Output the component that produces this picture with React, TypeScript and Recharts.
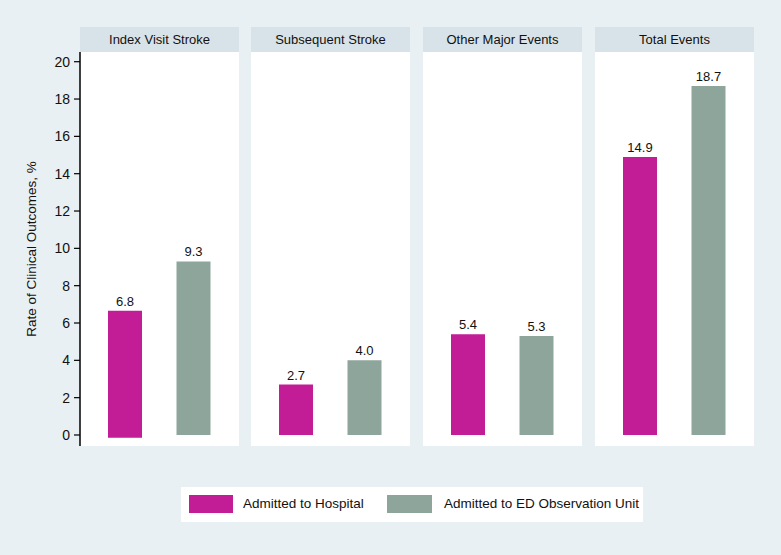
import React from 'react';
import { BarChart, Bar, XAxis, YAxis, Cell, LabelList } from 'recharts';

const panels = ['Index Visit Stroke', 'Subsequent Stroke', 'Other Major Events', 'Total Events'];
const seriesNames = ['Admitted to Hospital', 'Admitted to ED Observation Unit'];
const hospital = [6.8, 2.7, 5.4, 14.9];
const observation = [9.3, 4.0, 5.3, 18.7];
// first hospital bar sits slightly below the zero line in the original
const hospitalBase = [-0.15, 0, 0, 0];
const observationBase = [0, 0, 0, 0];
const yTicks = [0, 2, 4, 6, 8, 10, 12, 14, 16, 18, 20];

const BG = '#e9f0f3';
const STRIP = '#d8e3e9';
const COLORS = ['#c21d96', '#8ea59b'];
const FONT = '"Liberation Sans", Arial, sans-serif';

const PANEL_X = [80, 251, 423, 595];
const PANEL_W = 159;
const PLOT_TOP = 52;
const PLOT_H = 394;
const AXIS_W = 60;
const DOMAIN: [number, number] = [-0.59, 20.52];

const panelData = (i: number) => [
  { series: seriesNames[0], range: [hospitalBase[i], hospitalBase[i] + hospital[i]], label: hospital[i].toFixed(1) },
  { series: seriesNames[1], range: [observationBase[i], observationBase[i] + observation[i]], label: observation[i].toFixed(1) },
];

const Panel: React.FC<{ i: number }> = ({ i }) => {
  const withAxis = i === 0;
  const w = withAxis ? PANEL_W + AXIS_W : PANEL_W;
  const left = withAxis ? PANEL_X[i] - AXIS_W : PANEL_X[i];
  return (
    <>
      <div
        style={{
          position: 'absolute', left: PANEL_X[i], top: 27, width: PANEL_W, height: 25,
          background: STRIP, fontSize: 13, lineHeight: '25px', textAlign: 'center', color: '#111',
        }}
      >
        {panels[i]}
      </div>
      <div style={{ position: 'absolute', left: PANEL_X[i], top: PLOT_TOP, width: PANEL_W, height: PLOT_H, background: '#fff' }} />
      <div style={{ position: 'absolute', left, top: PLOT_TOP }}>
        <BarChart width={w} height={PLOT_H} data={panelData(i)} margin={{ top: 0, right: 0, bottom: 0, left: 0 }}>
          <XAxis dataKey="series" hide padding={{ left: 11, right: 11 }} />
          <YAxis
            type="number"
            domain={DOMAIN}
            ticks={yTicks}
            allowDataOverflow
            hide={!withAxis}
            width={AXIS_W}
            tick={{ fill: '#111', fontSize: 14 }}
            tickSize={6}
            tickMargin={4}
            axisLine={{ stroke: '#000', strokeWidth: 1.5 }}
            tickLine={{ stroke: '#000', strokeWidth: 1.2 }}
          />
          <Bar dataKey="range" barSize={34} isAnimationActive={false}>
            {panelData(i).map((_, k) => (
              <Cell key={k} fill={COLORS[k]} />
            ))}
            <LabelList dataKey="label" position="top" offset={5} fill="#111" fontSize={13} />
          </Bar>
        </BarChart>
      </div>
    </>
  );
};

export default function App() {
  return (
    <div style={{ position: 'absolute', left: 0, top: 0, width: 781, height: 555, background: BG, fontFamily: FONT }}>
      {panels.map((_, i) => (
        <Panel key={i} i={i} />
      ))}
      <div
        style={{
          position: 'absolute', left: 31, top: 249, transform: 'translate(-50%, -50%) rotate(-90deg)',
          whiteSpace: 'nowrap', fontSize: 13.5, color: '#111',
        }}
      >
        Rate of Clinical Outcomes, %
      </div>
      <div
        style={{
          position: 'absolute', left: 181, top: 487, width: 462, height: 35, background: '#fff',
          fontSize: 13.5, color: '#111', whiteSpace: 'nowrap',
        }}
      >
        <span style={{ position: 'absolute', left: 8, top: 8, width: 44, height: 18, background: COLORS[0] }} />
        <span style={{ position: 'absolute', left: 62, top: 0, lineHeight: '34px' }}>{seriesNames[0]}</span>
        <span style={{ position: 'absolute', left: 206, top: 8, width: 45, height: 18, background: COLORS[1] }} />
        <span style={{ position: 'absolute', left: 263, top: 0, lineHeight: '34px' }}>{seriesNames[1]}</span>
      </div>
    </div>
  );
}
